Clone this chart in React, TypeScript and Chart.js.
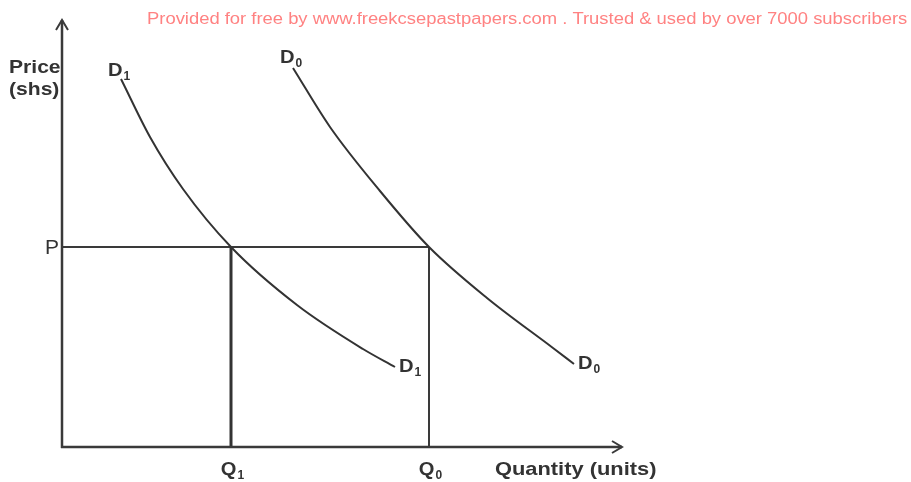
import { useEffect, useRef } from "react";
import { Chart, registerables } from "chart.js";

Chart.register(...registerables);

const FONT = '"Liberation Sans", Arial, Helvetica, sans-serif';
const INK = "#333333";

// Demand curve D1 (shifted left): quantity / price pairs
const D1_Q = [5.9, 8.8, 12.1, 16.9, 23.5, 30.1, 33.3];
const D1_P = [36.8, 31.0, 25.8, 20.0, 14.2, 9.8, 8.0];

// Demand curve D0 (original)
const D0_Q = [23.1, 26.8, 31.8, 36.7, 42.5, 49.1, 51.2];
const D0_P = [37.9, 32.0, 25.6, 20.0, 14.9, 9.9, 8.3];

// Reference levels
const PRICE_LEVEL = 20;
const Q_LEVELS = [16.9, 36.7];
const Q_LABELS = ["1", "0"];
const CURVE_NAMES = ["1", "0"];

const X_MAX = 56;
const Y_MAX = 42;

const WATERMARK =
  "Provided for free by www.freekcsepastpapers.com . Trusted & used by over 7000 subscribers";

function fillScaled(
  ctx: CanvasRenderingContext2D,
  text: string,
  x: number,
  y: number,
  sx: number
) {
  ctx.save();
  ctx.translate(x, y);
  ctx.scale(sx, 1);
  ctx.textAlign = "left";
  ctx.textBaseline = "alphabetic";
  ctx.fillText(text, 0, 0);
  ctx.restore();
}

function drawSub(
  ctx: CanvasRenderingContext2D,
  main: string,
  sub: string,
  x: number,
  y: number,
  align: "left" | "center" = "left"
) {
  ctx.font = `bold 19px ${FONT}`;
  const w = ctx.measureText(main).width * 1.06;
  ctx.font = `bold 12px ${FONT}`;
  const ws = ctx.measureText(sub).width;
  let left = x;
  if (align === "center") left = x - (w + ws + 2) / 2;
  ctx.font = `bold 19px ${FONT}`;
  fillScaled(ctx, main, left, y, 1.06);
  ctx.font = `bold 12px ${FONT}`;
  fillScaled(ctx, sub, left + w + 1, y + 4, 1.0);
}

const overlay = {
  id: "overlay",
  afterDraw(chart: any) {
    const ctx: CanvasRenderingContext2D = chart.ctx;
    const { left, right, bottom, top } = chart.chartArea;
    const xs = chart.scales.x;
    const ys = chart.scales.y;
    ctx.save();

    // axes
    ctx.strokeStyle = "#3a3a3a";
    ctx.lineWidth = 2.5;
    ctx.lineCap = "butt";
    ctx.beginPath();
    ctx.moveTo(left, bottom + 1);
    ctx.lineTo(left, top - 7);
    ctx.moveTo(left - 1, bottom);
    ctx.lineTo(right, bottom);
    ctx.stroke();

    // arrow heads (open chevrons)
    ctx.lineWidth = 2;
    ctx.lineJoin = "miter";
    ctx.beginPath();
    ctx.moveTo(left - 6, top + 3);
    ctx.lineTo(left, top - 7);
    ctx.lineTo(left + 6, top + 3);
    ctx.moveTo(right - 10, bottom - 6);
    ctx.lineTo(right, bottom);
    ctx.lineTo(right - 10, bottom + 6);
    ctx.stroke();

    ctx.fillStyle = INK;

    // axis titles
    ctx.font = `bold 19px ${FONT}`;
    fillScaled(ctx, "Price", 9, 73, 1.11);
    fillScaled(ctx, "(shs)", 9, 95, 1.11);
    fillScaled(ctx, "Quantity (units)", 495, 475, 1.15);

    // P label
    ctx.font = `20px ${FONT}`;
    const py = ys.getPixelForValue(PRICE_LEVEL);
    fillScaled(ctx, "P", left - 17, py + 7, 1.05);

    // Q labels
    Q_LEVELS.forEach((q, i) => {
      const px = xs.getPixelForValue(q);
      drawSub(ctx, "Q", Q_LABELS[i], px + 2, 475, "center");
    });

    // curve labels
    const curves = [
      { q: D1_Q, p: D1_P },
      { q: D0_Q, p: D0_P },
    ];
    curves.forEach((c, i) => {
      const n = c.q.length;
      const sx = xs.getPixelForValue(c.q[0]);
      const sy = ys.getPixelForValue(c.p[0]);
      drawSub(ctx, "D", CURVE_NAMES[i], sx - 13, sy - 3 - i * 2);
      const ex = xs.getPixelForValue(c.q[n - 1]);
      const ey = ys.getPixelForValue(c.p[n - 1]);
      drawSub(ctx, "D", CURVE_NAMES[i], ex + 4, ey + 5);
    });

    // watermark
    ctx.fillStyle = "#ff8282";
    ctx.font = `16px ${FONT}`;
    fillScaled(ctx, WATERMARK, 147, 24, 1.15);

    ctx.restore();
  },
};

export default function App() {
  const ref = useRef<HTMLCanvasElement | null>(null);

  useEffect(() => {
    if (!ref.current) return;
    const curve = (q: number[], p: number[]) => q.map((x, i) => ({ x, y: p[i] }));
    const chart = new Chart(ref.current, {
      type: "scatter",
      data: {
        datasets: [
          {
            data: curve(D1_Q, D1_P),
            showLine: true,
            borderColor: INK,
            borderWidth: 2,
            pointRadius: 0,
            cubicInterpolationMode: "monotone",
          },
          {
            data: curve(D0_Q, D0_P),
            showLine: true,
            borderColor: INK,
            borderWidth: 2,
            pointRadius: 0,
            cubicInterpolationMode: "monotone",
          },
          {
            data: [
              { x: 0, y: PRICE_LEVEL },
              { x: Q_LEVELS[1], y: PRICE_LEVEL },
            ],
            showLine: true,
            borderColor: "#3a3a3a",
            borderWidth: 2,
            pointRadius: 0,
            tension: 0,
          },
          {
            data: [
              { x: Q_LEVELS[0], y: 0 },
              { x: Q_LEVELS[0], y: PRICE_LEVEL },
            ],
            showLine: true,
            borderColor: "#333333",
            borderWidth: 3,
            pointRadius: 0,
            tension: 0,
          },
          {
            data: [
              { x: Q_LEVELS[1], y: 0 },
              { x: Q_LEVELS[1], y: PRICE_LEVEL },
            ],
            showLine: true,
            borderColor: "#3a3a3a",
            borderWidth: 2,
            pointRadius: 0,
            tension: 0,
          },
        ],
      },
      options: {
        animation: false,
        responsive: true,
        maintainAspectRatio: false,
        layout: { padding: { left: 62, top: 27, right: 289, bottom: 35 } },
        scales: {
          x: { type: "linear", min: 0, max: X_MAX, display: false },
          y: { type: "linear", min: 0, max: Y_MAX, display: false },
        },
        plugins: {
          legend: { display: false },
          tooltip: { enabled: false },
          title: { display: false },
        },
        events: [],
      },
      plugins: [overlay],
    } as any);
    return () => chart.destroy();
  }, []);

  return (
    <div
      style={{
        position: "fixed",
        left: 0,
        top: 0,
        width: 911,
        height: 482,
        background: "#ffffff",
      }}
    >
      <canvas ref={ref} />
    </div>
  );
}
